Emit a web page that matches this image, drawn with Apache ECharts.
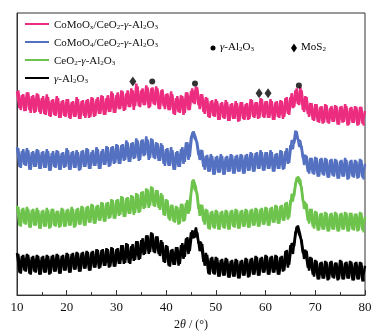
<!DOCTYPE html>
<html>
<head>
<meta charset="utf-8">
<script src="https://cdn.jsdelivr.net/npm/echarts@6/dist/echarts.min.js"></script>
<style>
  html, body { margin: 0; padding: 0; background: #fff; }
  #chart { width: 379px; height: 336px; }
</style>
</head>
<body>
<div id="chart"></div>
<script>
// XRD patterns, intensities in arbitrary units (stacked offsets).
// "A" samples sit at 2θ = 10, 10.5, ... 80; "B" samples at 10.25, 10.75, ... 79.75
const thetaStart = 10;
const thetaStep = 0.5;

const coMoOxCeA = [
  208,191,204,188,207,189,203,186,206,187,
  201,185,205,183,199,184,203,181,198,183,
  200,181,197,182,202,180,198,183,199,181,
  202,182,200,185,204,184,201,187,208,186,
  204,190,209,188,206,192,211,189,216,193,
  209,194,214,191,211,195,213,190,209,193,
  205,189,208,185,201,187,204,184,207,189,
  208,196,213,194,205,187,202,182,198,183,
  200,179,196,181,199,178,195,180,198,177,
  197,180,195,179,200,182,197,180,201,182,
  198,181,200,179,197,182,199,180,201,185,
  202,191,209,195,212,189,203,185,196,179,
  195,177,192,175,195,176,191,177,194,174,
  192,176,195,173,191,176,193,173,192,175,
  188
];
const coMoOxCeB = [
  209,189,205,188,207,186,204,187,205,185,
  203,184,202,182,200,183,201,181,199,182,
  200,180,198,182,200,180,199,181,200,182,
  201,183,202,185,203,184,204,187,206,186,
  207,190,208,189,209,192,209,193,213,192,
  211,194,212,192,212,194,211,190,210,190,
  206,189,205,184,203,186,203,186,207,189,
  211,195,212,190,205,185,201,181,199,182,
  198,179,197,180,197,178,196,180,196,178,
  197,179,196,180,199,181,197,181,200,181,
  198,181,198,179,198,181,198,182,202,184,
  206,192,211,194,209,187,202,182,196,178,
  195,176,193,176,194,175,193,177,193,174,
  193,177,193,174,192,176,192,174,192,173
];

const coMoO4CeA = [
  151,131,147,133,150,128,146,131,149,129,
  146,130,149,127,145,131,148,128,145,130,
  150,128,146,130,148,127,147,131,150,129,
  146,132,151,129,147,133,152,131,151,134,
  154,134,153,137,158,136,155,139,160,137,
  158,142,162,138,160,140,156,137,155,134,
  149,132,151,128,146,131,149,134,156,138,
  161,167,160,143,148,131,142,126,144,123,
  141,125,144,123,141,126,144,124,142,126,
  144,124,143,127,146,126,145,129,148,127,
  146,129,148,126,144,129,148,128,147,134,
  153,149,168,159,157,140,143,126,140,124,
  141,121,139,123,140,120,138,122,139,119,
  137,121,140,118,137,121,138,119,139,120,
  134
];
const coMoO4CeB = [
  150,130,149,132,148,128,147,131,148,129,
  147,130,147,127,147,130,147,128,146,131,
  148,128,147,130,146,128,148,131,149,129,
  148,132,149,129,149,133,151,132,152,135,
  153,134,154,138,156,136,156,140,158,138,
  159,143,159,140,159,139,155,137,153,132,
  150,132,148,128,147,131,151,136,156,141,
  166,160,156,138,148,128,143,126,142,123,
  142,125,142,123,142,126,143,124,143,126,
  143,124,144,127,145,126,146,129,146,127,
  146,129,146,126,145,129,147,129,150,135,
  158,155,167,152,152,133,142,124,140,123,
  140,121,140,122,139,120,139,121,138,119,
  138,121,138,119,138,120,137,120,138,118
];

const ceAlA = [
  91,71,88,73,90,69,87,71,89,68,
  86,70,89,68,88,71,86,69,89,70,
  87,71,90,69,88,72,91,71,90,74,
  93,73,91,76,95,75,94,78,98,78,
  97,81,101,80,99,83,102,82,104,84,
  105,88,109,89,111,91,107,89,104,82,
  98,78,92,75,91,72,93,75,94,83,
  105,118,110,88,92,75,88,68,85,69,
  87,67,85,69,87,67,86,70,88,68,
  86,70,88,69,87,71,89,70,88,72,
  90,71,89,74,92,73,91,76,94,77,
  97,96,114,121,117,96,94,76,88,70,
  86,66,83,67,85,65,83,67,85,65,
  83,67,85,65,84,67,83,65,85,66,
  80
];
const ceAlB = [
  90,70,89,72,88,69,88,71,87,68,
  87,70,87,69,88,70,86,70,88,70,
  88,71,88,70,89,72,90,71,91,74,
  92,73,92,76,94,75,95,79,97,78,
  98,82,100,80,100,83,101,84,103,85,
  106,89,108,91,110,90,107,87,102,81,
  97,76,92,74,90,73,93,76,97,86,
  117,108,104,81,92,72,87,67,86,68,
  86,67,86,68,86,67,87,69,87,68,
  87,70,87,69,88,71,88,70,89,72,
  89,71,90,74,91,73,92,76,95,79,
  103,101,120,115,110,88,93,73,88,68,
  85,66,84,67,84,65,84,67,84,65,
  84,67,84,65,84,66,83,66,84,64
];

const gammaAlA = [
  43,23,40,25,42,22,39,24,41,21,
  39,23,41,21,40,24,42,22,40,25,
  43,23,42,26,44,24,43,27,45,25,
  44,28,47,27,46,30,48,28,49,29,
  47,32,51,32,53,33,50,35,55,36,
  56,41,61,42,64,44,60,42,56,34,
  51,30,46,31,49,30,51,37,58,42,
  64,58,69,53,54,34,43,22,38,22,
  39,19,36,20,38,18,35,19,37,17,
  35,20,38,18,37,21,40,20,38,23,
  41,21,39,23,41,21,39,24,45,28,
  51,42,64,71,61,43,46,28,39,21,
  36,16,33,17,35,15,34,18,33,15,
  36,16,33,17,35,15,33,16,34,14,
  30
];
const gammaAlB = [
  42,22,41,24,41,21,40,23,40,21,
  40,23,40,22,41,24,41,22,41,25,
  42,23,43,26,43,24,44,27,44,25,
  45,28,46,28,47,30,47,29,48,29,
  48,32,51,33,52,32,52,36,55,37,
  58,42,61,44,63,43,60,40,54,33,
  50,29,47,31,49,32,53,39,59,45,
  66,59,64,45,52,30,41,21,39,21,
  38,19,37,20,37,18,36,19,36,17,
  36,20,37,19,38,21,39,20,39,23,
  40,21,40,23,40,21,40,25,46,31,
  53,50,70,62,56,37,45,25,38,19,
  35,16,34,17,34,16,35,17,33,16,
  35,16,34,17,34,15,34,16,33,14
];

// peak markers [2θ, height]
const alMarks = [[37.2, 218], [45.8, 216], [66.7, 214]];
const mosMarks = [[33.3, 218], [58.7, 206], [60.5, 206]];

const seriesNames = ['CoMoOx/CeO2-γ-Al2O3', 'CoMoO4/CeO2-γ-Al2O3', 'CeO2-γ-Al2O3', 'γ-Al2O3'];
const seriesColors = ['#ec2d7f', '#5470c1', '#6dc34c', '#000000'];
const legendRich = {
  'CoMoOx/CeO2-γ-Al2O3': '{n|CoMoO}{s|x}{n|/CeO}{s|2}{n|-}{i|γ}{n|-Al}{s|2}{n|O}{s|3}',
  'CoMoO4/CeO2-γ-Al2O3': '{n|CoMoO}{s|4}{n|/CeO}{s|2}{n|-}{i|γ}{n|-Al}{s|2}{n|O}{s|3}',
  'CeO2-γ-Al2O3': '{n|CeO}{s|2}{n|-}{i|γ}{n|-Al}{s|2}{n|O}{s|3}',
  'γ-Al2O3': '{i|γ}{n|-Al}{s|2}{n|O}{s|3}'
};

const serif = 'Liberation Serif';
const rich = {
  n: { fontFamily: serif, fontSize: 11, color: '#111', lineHeight: 14, verticalAlign: 'bottom' },
  i: { fontFamily: serif, fontSize: 11, color: '#111', fontStyle: 'italic', lineHeight: 14, verticalAlign: 'bottom' },
  s: { fontFamily: serif, fontSize: 7, color: '#111', lineHeight: 8, verticalAlign: 'bottom' }
};

function toPoints(values, start) {
  return values.map((v, i) => [start + i * thetaStep, v]);
}

const chart = echarts.init(document.getElementById('chart'), null, { renderer: 'canvas' });

const patterns = [
  [coMoOxCeA, coMoOxCeB],
  [coMoO4CeA, coMoO4CeB],
  [ceAlA, ceAlB],
  [gammaAlA, gammaAlB]
];

const lineSeries = [];
patterns.forEach(([a, b], k) => {
  [[a, thetaStart], [b, thetaStart + thetaStep / 2]].forEach(([vals, start]) => {
    lineSeries.push({
      name: seriesNames[k],
      type: 'line',
      data: toPoints(vals, start),
      symbol: 'none',
      sampling: 'none',
      color: seriesColors[k],
      lineStyle: { color: seriesColors[k], width: 2.4 },
      z: 2 + k
    });
  });
});

chart.setOption({
  animation: false,
  backgroundColor: '#fff',
  grid: {
    left: 17,
    right: 14,
    top: 13,
    bottom: 35,
    show: true,
    borderColor: '#333',
    borderWidth: 1
  },
  legend: {
    orient: 'vertical',
    left: 20,
    top: 15,
    itemGap: 7,
    itemWidth: 24,
    itemHeight: 2,
    icon: 'rect',
    data: seriesNames,
    formatter: (name) => legendRich[name],
    textStyle: { rich: rich }
  },
  xAxis: {
    type: 'value',
    min: 10,
    max: 80,
    interval: 10,
    name: '{t|2}{ti|θ}{t| / (°)}',
    nameLocation: 'middle',
    nameGap: 21,
    nameTextStyle: {
      rich: {
        t: { fontFamily: serif, fontSize: 12, color: '#111' },
        ti: { fontFamily: serif, fontSize: 12, color: '#111', fontStyle: 'italic' }
      }
    },
    axisLine: { lineStyle: { color: '#333', width: 1 } },
    axisTick: { inside: true, length: 5, lineStyle: { color: '#333' } },
    minorTick: { show: true, splitNumber: 2, length: 3, lineStyle: { color: '#333' } },
    axisLabel: { fontFamily: serif, fontSize: 13, color: '#111', margin: 6 },
    splitLine: { show: false }
  },
  yAxis: {
    type: 'value',
    min: 0,
    max: 288,
    axisLine: { show: true, lineStyle: { color: '#333', width: 1 } },
    axisTick: { show: false },
    axisLabel: { show: false },
    splitLine: { show: false }
  },
  graphic: [
    { type: 'circle', shape: { cx: 213, cy: 48, r: 2.5 }, style: { fill: '#000' } },
    { type: 'text', left: 220, top: 42, style: { text: '{i|γ}{n|-Al}{s|2}{n|O}{s|3}', rich: rich } },
    { type: 'polygon', shape: { points: [[294, 43.5], [297, 48], [294, 52.5], [291, 48]] }, style: { fill: '#000' } },
    { type: 'text', left: 301, top: 42, style: { text: '{n|MoS}{s|2}', rich: rich } }
  ],
  series: lineSeries.concat([
    {
      type: 'scatter',
      data: alMarks,
      symbol: 'circle',
      symbolSize: 6,
      itemStyle: { color: '#000' },
      z: 10
    },
    {
      type: 'scatter',
      data: mosMarks,
      symbol: 'diamond',
      symbolSize: [7, 10],
      itemStyle: { color: '#000' },
      z: 10
    }
  ])
});
</script>
</body>
</html>
